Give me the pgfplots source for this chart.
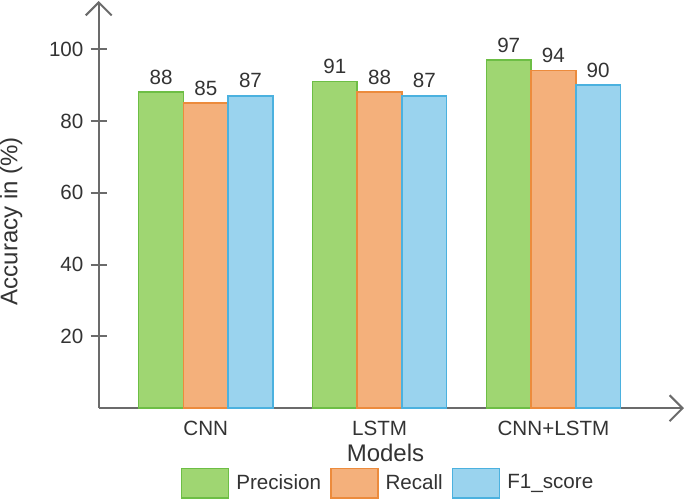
\documentclass[border=0pt]{standalone}
\usepackage{pgfplots}
\pgfplotsset{compat=1.18}
\usepackage{fontspec}
\setmainfont{Liberation Sans}
\usetikzlibrary{arrows.meta}
\definecolor{txt}{HTML}{333333}
\definecolor{axc}{HTML}{6B6B6B}
\definecolor{gfill}{HTML}{9FD672}
\definecolor{gedge}{HTML}{6DBE45}
\definecolor{ofill}{HTML}{F4B07B}
\definecolor{oedge}{HTML}{EC8B3C}
\definecolor{bfill}{HTML}{9AD3EE}
\definecolor{bedge}{HTML}{4BB1DF}
\newcommand{\fs}{\fontsize{10.3}{12.4}\selectfont}
\newcommand{\fl}{\fontsize{12}{14.4}\selectfont}
\begin{document}
\fs
\begin{tikzpicture}
\begin{axis}[
  scale only axis,
  width=292.5pt, height=203.5pt,
  xmin=-0.616, xmax=2.751,
  ymin=0, ymax=113.4,
  axis lines=left,
  axis line style={color=axc, line width=1pt, -{Straight Barb[length=6.5pt,width=13pt,line width=1pt]}},
  ybar, bar width=22.35pt, ybar=0pt,
  xtick={0,1,2},
  xticklabels={CNN,LSTM,CNN+LSTM},
  major x tick style={draw=none},
  ytick={20,40,60,80,100},
  tick align=center,
  major tick length=8pt,
  major y tick style={color=axc, line width=1pt},
  tick label style={font=\fs, text=txt},
  xticklabel style={yshift=1pt},
  /pgf/number format/assume math mode=true,
  xlabel={Models},
  ylabel={Accuracy in (\%)},
  label style={font=\fl, text=txt},
  xlabel style={at={(axis description cs:0.49,0)}, anchor=center, yshift=-22.5pt},
  ylabel style={at={(axis description cs:-0.1495,0.459)}, anchor=center, inner sep=0pt},
  nodes near coords,
  every node near coord/.append style={font=\fs, text=txt},
  legend columns=3,
  legend style={draw=none, at={(axis description cs:0.496,0)}, anchor=center, yshift=-37.5pt,
    font=\fs, text=txt,
    /tikz/every even column/.append style={column sep=2.5pt},
    /tikz/every odd column/.append style={column sep=1.5pt}},
  legend image code/.code={\draw[#1, line width=0.75pt] (0pt,-7.25pt) rectangle (23.5pt,7.25pt);},
]
\addplot[fill=gfill, draw=gedge, line width=0.75pt] coordinates {(0,88) (1,91) (2,97)};
\addplot[fill=ofill, draw=oedge, line width=0.75pt] coordinates {(0,85) (1,88) (2,94)};
\addplot[fill=bfill, draw=bedge, line width=0.75pt] coordinates {(0,87) (1,87) (2,90)};
\legend{Precision,Recall,F1\_score}
\end{axis}
\end{tikzpicture}
\end{document}
